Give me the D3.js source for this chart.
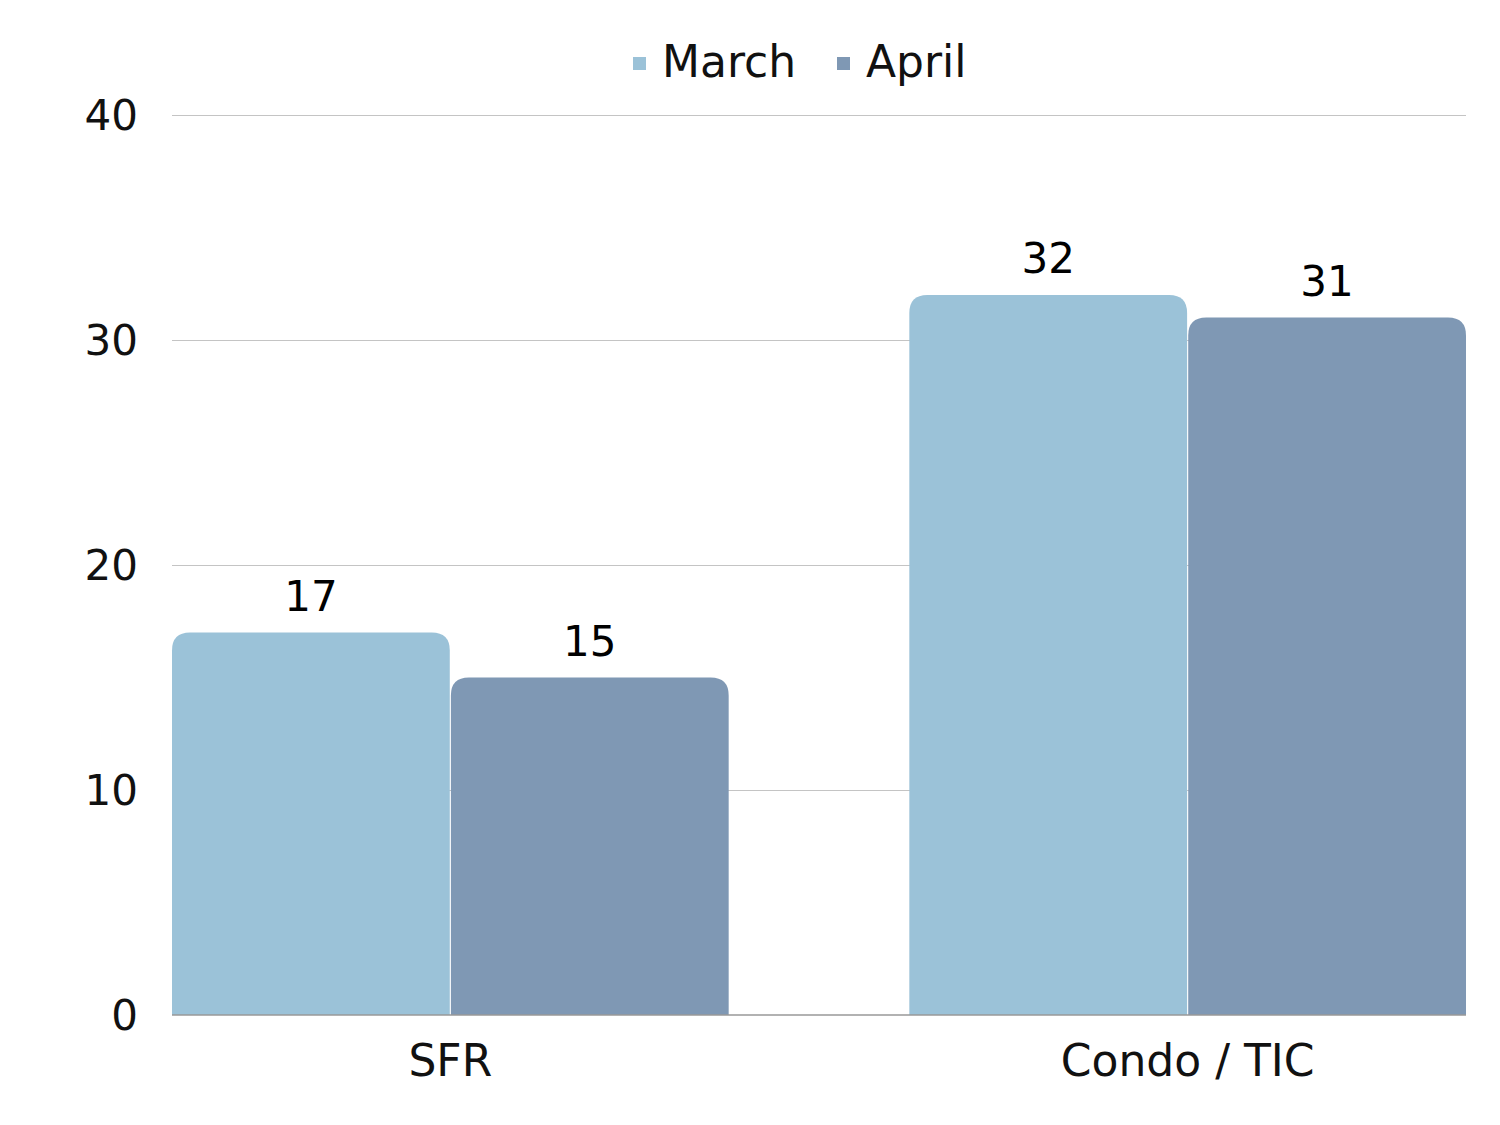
<!DOCTYPE html>
<html><head><meta charset="utf-8">
<script src="https://cdn.jsdelivr.net/npm/d3@7"></script>
<style>body{margin:0;background:#fff}svg{display:block}</style>
</head><body>
<svg id="c" width="1500" height="1125"></svg>
<script>
const categories = ["SFR", "Condo / TIC"];
const seriesNames = ["March", "April"];
const marchValues = [17, 32];
const aprilValues = [15, 31];
const yTicks = [0, 10, 20, 30, 40];
const colors = ["#9BC2D8", "#7F98B4"];

(function () {
const svg = d3.select("#c");
const font = "'DejaVu Sans', 'Noto Sans', sans-serif";
const plotLeft = 172, plotRight = 1466, plotTop = 115, plotBottom = 1015;

const x0 = d3.scaleBand().domain(categories).range([plotLeft, plotRight]).paddingInner(0.245).paddingOuter(0);
const x1 = d3.scaleBand().domain(seriesNames).range([0, x0.bandwidth()]).paddingInner(0.004);
const y = d3.scaleLinear().domain([0, 40]).range([plotBottom, plotTop]);
const color = d3.scaleOrdinal().domain(seriesNames).range(colors);

// gridlines
svg.append("g").selectAll("line").data(yTicks.filter(d => d > 0)).join("line")
  .attr("x1", plotLeft).attr("x2", plotRight)
  .attr("y1", d => y(d) + 0.5).attr("y2", d => y(d) + 0.5)
  .attr("stroke", "#c4c4c4").attr("stroke-width", 1);

// y tick labels
svg.append("g").selectAll("text").data(yTicks).join("text")
  .attr("x", 138).attr("y", d => y(d)).attr("dy", "0.36em")
  .attr("text-anchor", "end").attr("font-family", font).attr("font-size", 42)
  .attr("fill", "#111").text(d => d);

const data = categories.map((c, i) => ({cat: c, vals: [
  {s: "March", v: marchValues[i]}, {s: "April", v: aprilValues[i]}]}));

const r = 18;
function barPath(x, w, yTop, yBot) {
  const rr = Math.min(r, (yBot - yTop));
  return `M${x},${yBot}V${yTop + rr}Q${x},${yTop} ${x + rr},${yTop}H${x + w - rr}Q${x + w},${yTop} ${x + w},${yTop + rr}V${yBot}Z`;
}

const groups = svg.append("g").selectAll("g").data(data).join("g")
  .attr("transform", d => `translate(${x0(d.cat)},0)`);
groups.selectAll("path").data(d => d.vals).join("path")
  .attr("d", d => barPath(x1(d.s), x1.bandwidth(), y(d.v), y(0)))
  .attr("fill", d => color(d.s));
groups.selectAll("text").data(d => d.vals).join("text")
  .attr("x", d => x1(d.s) + x1.bandwidth() / 2)
  .attr("y", d => y(d.v) - 22)
  .attr("text-anchor", "middle").attr("font-family", font).attr("font-size", 42)
  .attr("font-weight", 500).attr("fill", "#000").text(d => d.v);

// baseline
svg.append("line").attr("x1", plotLeft).attr("x2", plotRight).attr("y1", y(0)).attr("y2", y(0))
  .attr("stroke", "#999").attr("stroke-width", 1.5);

// x labels
svg.append("g").selectAll("text").data(categories).join("text")
  .attr("x", d => x0(d) + x0.bandwidth() / 2).attr("y", 1076)
  .attr("text-anchor", "middle").attr("font-family", font).attr("font-size", 44)
  .attr("fill", "#111").text(d => d);

// legend
const legendX = [633, 837];
const lg = svg.append("g").selectAll("g").data(seriesNames).join("g")
  .attr("transform", (d, i) => `translate(${legendX[i]},0)`);
lg.append("rect").attr("x", 0).attr("y", 57).attr("width", 13).attr("height", 13).attr("fill", d => color(d));
lg.append("text").attr("x", 29).attr("y", 77).attr("font-family", font).attr("font-size", 44)
  .attr("fill", "#111").text(d => d);
})();
</script>
</body></html>
